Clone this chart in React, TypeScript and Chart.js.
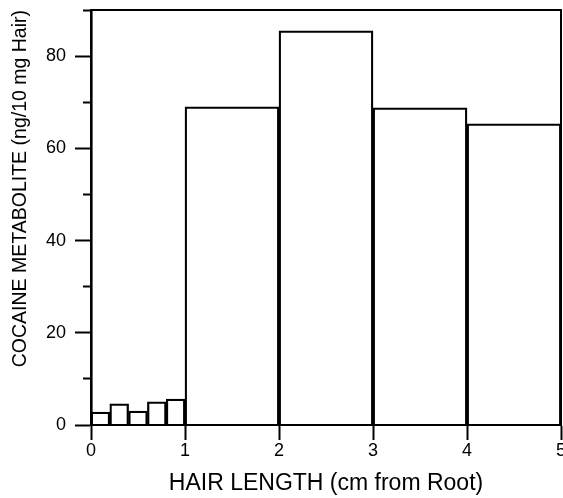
import React, { useEffect, useRef } from "react";
import { Chart, registerables } from "chart.js";

Chart.register(...registerables);

// Histogram bins (cm from root) and cocaine metabolite values (ng/10 mg hair)
const smallBinStarts = [0, 0.2, 0.4, 0.6, 0.8];
const smallBinWidth = 0.2;
const smallValues = [2.8, 4.6, 3.0, 5.0, 5.6];

const bigBinStarts = [1, 2, 3, 4];
const bigBinWidth = 1;
const bigValues = [69, 85.5, 68.8, 65.3];

const xTickValues = [0, 1, 2, 3, 4, 5];
const yMajorLabels = [0, 20, 40, 60, 80];

const xTitle = "HAIR LENGTH (cm from Root)";
const yTitle = "COCAINE METABOLITE (ng/10 mg Hair)";

const FONT = "'Liberation Sans', Arial, Helvetica, sans-serif";

const framePlugin = {
  id: "frame",
  afterDatasetsDraw(chart: any) {
    const { ctx, chartArea } = chart;
    ctx.save();
    ctx.strokeStyle = "#000";
    ctx.lineWidth = 2;
    ctx.beginPath();
    ctx.moveTo(chartArea.left, chartArea.top);
    ctx.lineTo(chartArea.right, chartArea.top);
    ctx.lineTo(chartArea.right, chartArea.bottom);
    ctx.stroke();
    ctx.restore();
  },
};

export default function App() {
  const ref = useRef<HTMLCanvasElement | null>(null);

  useEffect(() => {
    if (!ref.current) return;
    const smallData = smallBinStarts.map((s, i) => ({ x: s + smallBinWidth / 2, y: smallValues[i] }));
    const bigData = bigBinStarts.map((s, i) => ({ x: s + bigBinWidth / 2, y: bigValues[i] }));

    const barCommon = {
      backgroundColor: "rgba(255,255,255,0)",
      borderColor: "#000",
      borderWidth: 1.6,
      barPercentage: 1,
      categoryPercentage: 1,
      grouped: false,
      yAxisID: "y",
    };

    const chart = new Chart(ref.current, {
      type: "bar",
      data: {
        datasets: [
          { ...barCommon, label: "small", data: smallData, xAxisID: "xs" } as any,
          { ...barCommon, label: "big", data: bigData, xAxisID: "x" } as any,
        ],
      },
      plugins: [framePlugin],
      options: {
        animation: false,
        responsive: false,
        devicePixelRatio: 1,
        layout: { padding: { top: 10, right: 2, bottom: 0, left: 0 } },
        plugins: {
          legend: { display: false },
          tooltip: { enabled: false },
        },
        scales: {
          x: {
            type: "linear",
            position: "bottom",
            offset: false,
            min: 0,
            max: 5,
            afterBuildTicks: (scale: any) => {
              scale.ticks = xTickValues.map((v) => ({ value: v }));
            },
            afterFit: (scale: any) => {
              scale.height = 73;
              scale.paddingLeft = 0;
              scale.paddingRight = 0;
            },
            grid: {
              offset: false,
              drawOnChartArea: false,
              drawTicks: true,
              tickLength: 15,
              tickWidth: 2,
              tickColor: "#000",
              color: "#000",
            },
            border: { display: true, color: "#000", width: 2 },
            ticks: {
              padding: 0,
              color: "#000",
              font: { family: FONT, size: 18 },
              maxRotation: 0,
              autoSkip: false,
              callback: (v: any) => String(v),
            },
            title: {
              display: true,
              text: xTitle,
              color: "#000",
              font: { family: FONT, size: 23, lineHeight: 1.2 },
              padding: { top: 0, bottom: 1 },
            },
          },
          xs: {
            type: "linear",
            position: "bottom",
            display: false,
            offset: false,
            grid: { offset: false },
            min: 0,
            max: 5,
          },
          y: {
            type: "linear",
            position: "left",
            min: 0,
            max: 90,
            afterFit: (scale: any) => {
              scale.width = 91;
              scale.paddingTop = 0;
              scale.paddingBottom = 0;
            },
            grid: {
              drawOnChartArea: false,
              drawTicks: true,
              tickLength: 16,
              tickWidth: 2,
              tickColor: "#000",
              color: "#000",
              tickBorderDash: (c: any) =>
                c.tick && yMajorLabels.indexOf(c.tick.value) === -1 ? [8, 8] : [],
              tickBorderDashOffset: (c: any) =>
                c.tick && yMajorLabels.indexOf(c.tick.value) === -1 ? 8 : 0,
            },
            border: { display: true, color: "#000", width: 2.6 },
            ticks: {
              stepSize: 10,
              padding: 9,
              color: "#000",
              autoSkip: false,
              font: { family: FONT, size: 18 },
              callback: (v: any) => (yMajorLabels.indexOf(Number(v)) !== -1 ? String(v) : ""),
            },
            title: {
              display: true,
              text: yTitle,
              align: "end",
              color: "#000",
              font: { family: FONT, size: 19.5, lineHeight: 1.2 },
              padding: { top: 9, bottom: 0 },
            },
          },
        },
      } as any,
    });
    return () => chart.destroy();
  }, []);

  return (
    <div style={{ position: "absolute", left: 0, top: 0, width: 563, height: 498, overflow: "hidden", background: "#fff" }}>
      <canvas ref={ref} width={563} height={498} style={{ display: "block", width: 563, height: 498 }} />
    </div>
  );
}
